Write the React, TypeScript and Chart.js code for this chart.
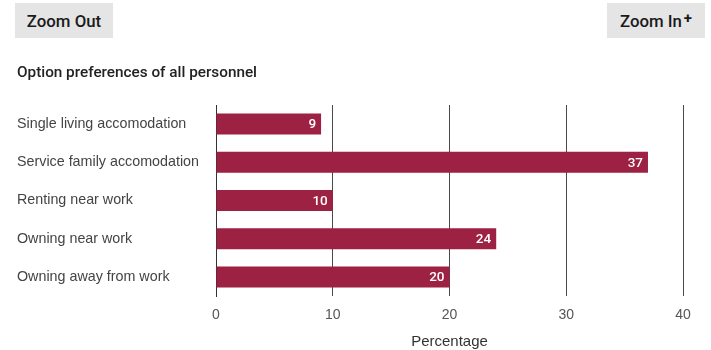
import React, { useEffect, useRef } from "react";
import { Chart, registerables } from "chart.js";

Chart.register(...registerables);

const categories = [
  "Single living accomodation",
  "Service family accomodation",
  "Renting near work",
  "Owning near work",
  "Owning away from work",
];
const values = [9, 37, 10, 24, 20];
const xTicks = [0, 10, 20, 30, 40];
const chartTitle = "Option preferences of all personnel";
const axisTitle = "Percentage";

const FONT = "'Liberation Sans', Arial, Helvetica, sans-serif";
const MED = "Roboto, 'Liberation Sans', Arial, sans-serif";
const BAR = "#9c2142";

const valueLabels = {
  id: "valueLabels",
  afterDatasetsDraw(chart: any) {
    const ctx = chart.ctx;
    const meta = chart.getDatasetMeta(0);
    ctx.save();
    ctx.fillStyle = "#ffffff";
    ctx.font = `500 13.5px ${MED}`;
    ctx.textAlign = "right";
    ctx.textBaseline = "middle";
    meta.data.forEach((bar: any, i: number) => {
      ctx.fillText(String(values[i]), bar.x - 5, bar.y + 1);
    });
    ctx.restore();
  },
};

export default function App() {
  const ref = useRef<HTMLCanvasElement | null>(null);
  useEffect(() => {
    if (!ref.current) return;
    const chart = new Chart(ref.current, {
      type: "bar",
      data: {
        labels: categories,
        datasets: [
          {
            data: values,
            backgroundColor: BAR,
            borderWidth: 0,
            categoryPercentage: 1,
            barPercentage: 0.55,
          },
        ],
      },
      plugins: [valueLabels],
      options: {
        indexAxis: "y",
        animation: false,
        responsive: false,
        layout: { padding: { left: 17, top: 105, right: 28, bottom: 0 } },
        plugins: { legend: { display: false }, tooltip: { enabled: false } },
        scales: {
          x: {
            min: 0,
            max: 40,
            afterBuildTicks: (scale: any) => {
              scale.ticks = xTicks.map((v) => ({ value: v }));
            },
            afterFit: (scale: any) => {
              scale.height = 54;
            },
            grid: { color: "#4a4a4a", drawTicks: false, lineWidth: 1 },
            border: { display: false },
            ticks: {
              padding: 11,
              color: "#555",
              font: { family: FONT, size: 14 },
            },
            title: {
              display: true,
              text: axisTitle,
              color: "#333",
              font: { family: FONT, size: 15 },
              padding: { top: 4, bottom: -1 },
            },
          },
          y: {
            afterFit: (scale: any) => {
              scale.width = 199;
            },
            grid: { display: false },
            border: { display: true, color: "#333", width: 1 },
            ticks: {
              crossAlign: "far",
              padding: 0,
              color: "#444",
              font: { family: FONT, size: 14.3 },
            },
          },
        },
      },
    });
    return () => chart.destroy();
  }, []);

  const btn: React.CSSProperties = {
    position: "absolute",
    top: 3,
    height: 35,
    width: 98,
    background: "#e5e5e5",
    color: "#1a1a1a",
    fontFamily: MED,
    fontSize: 16.8,
    fontWeight: 500,
    display: "flex",
    alignItems: "center",
    justifyContent: "center",
  };

  return (
    <div
      style={{
        position: "fixed",
        left: 0,
        top: 0,
        width: 711,
        height: 350,
        background: "#fff",
        overflow: "hidden",
      }}
    >
      <canvas
        ref={ref}
        width={711}
        height={350}
        style={{ position: "absolute", left: 0, top: 0 }}
      />
      <div style={{ ...btn, left: 15 }}>Zoom Out</div>
      <div style={{ ...btn, left: 607 }}>
        Zoom In
        <span style={{ fontSize: 15, fontWeight: 700, marginLeft: 2, position: "relative", top: -3 }}>+</span>
      </div>
      <div
        style={{
          position: "absolute",
          left: 17,
          top: 63,
          fontFamily: MED,
          fontSize: 15.3,
          fontWeight: 500,
          color: "#222",
        }}
      >
        {chartTitle}
      </div>
    </div>
  );
}
